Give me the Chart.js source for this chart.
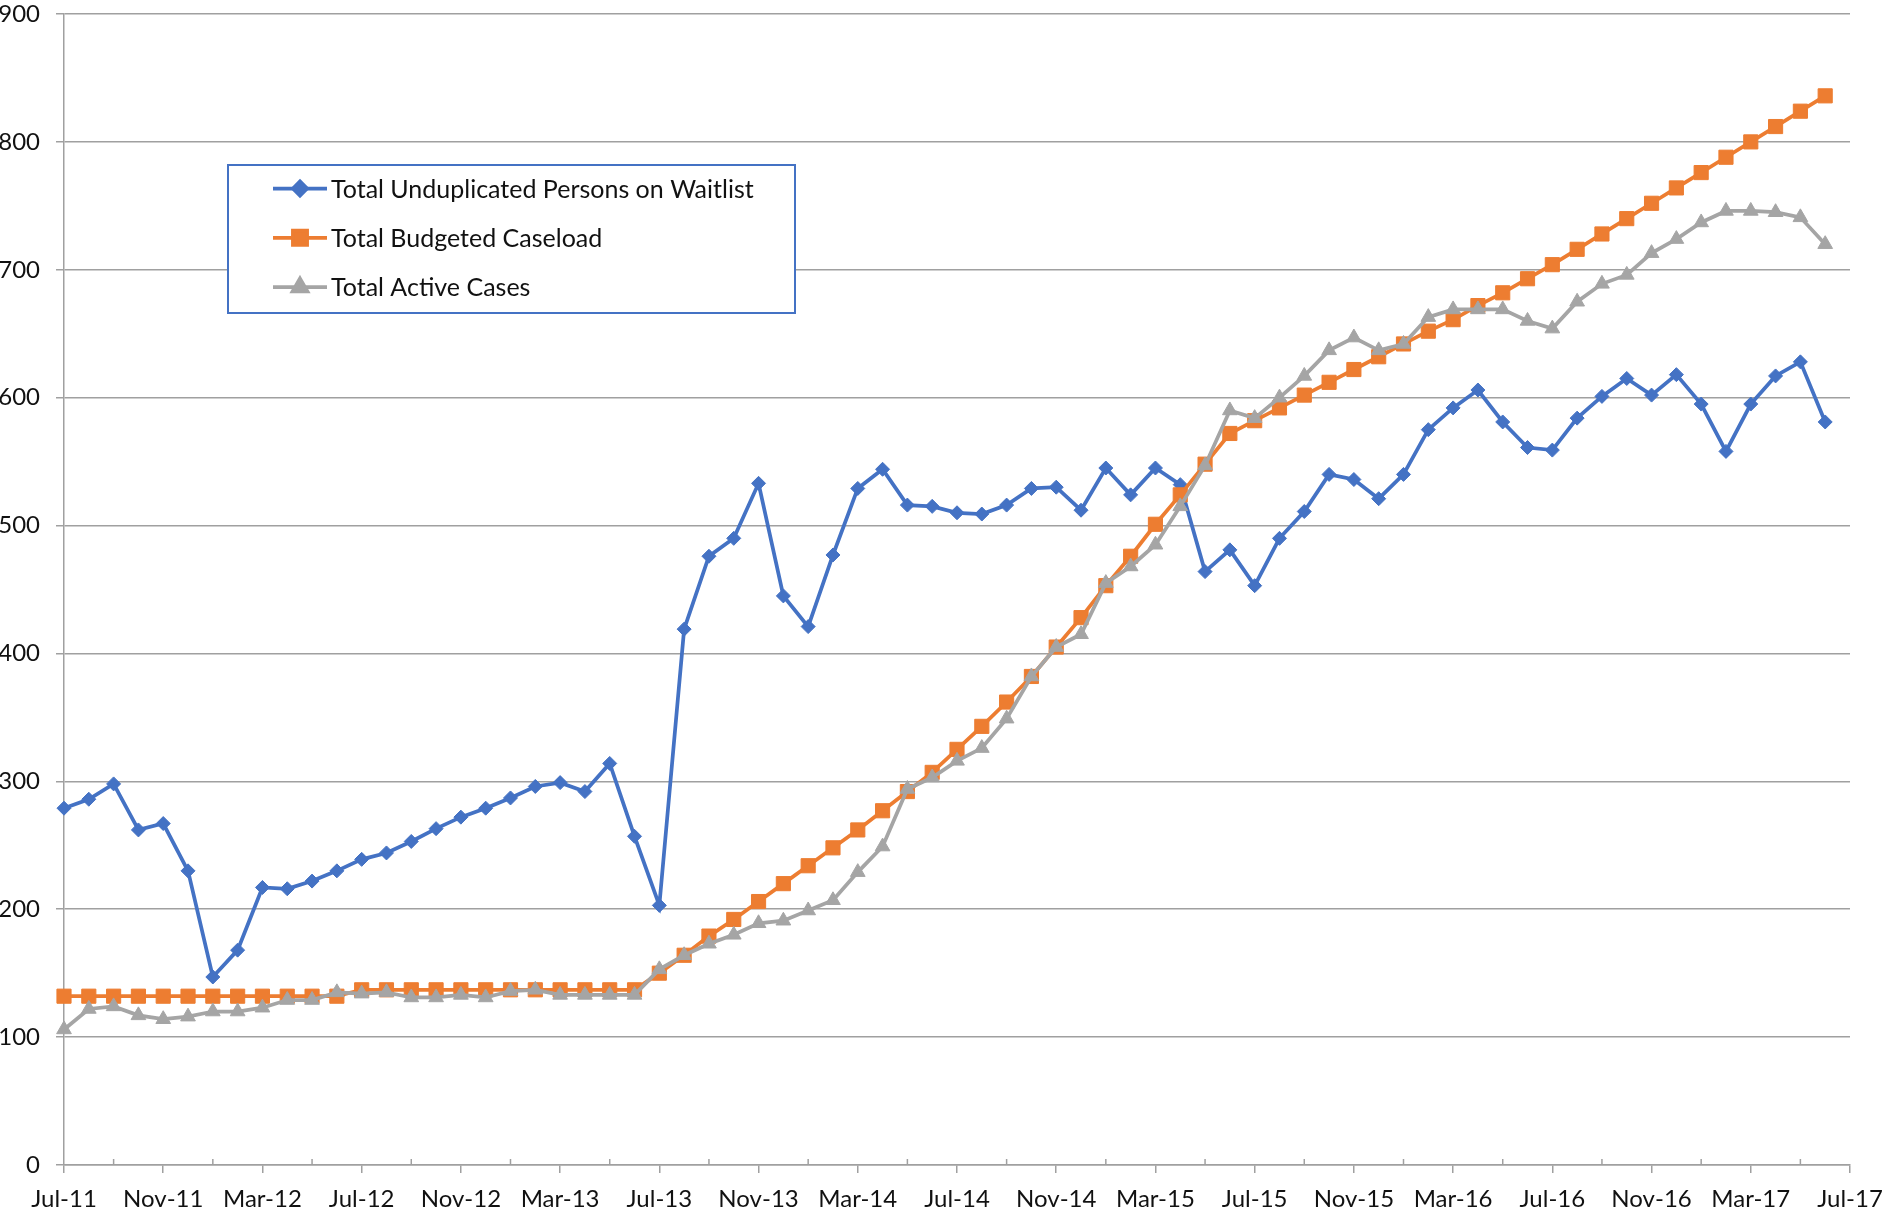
<!DOCTYPE html>
<html>
<head>
<meta charset="utf-8">
<script src="https://cdn.jsdelivr.net/npm/chart.js@4.4.1/dist/chart.umd.min.js"></script>
<style>
html,body{margin:0;padding:0;background:#ffffff;}
#wrap{width:1883px;height:1210px;position:relative;}
canvas{display:block;}
</style>
</head>
<body>
<div id="wrap"><canvas id="chart" width="1883" height="1210"></canvas></div>
<script>
// ---------- DATA ----------
const months = [
 'Jul-11','Aug-11','Sep-11','Oct-11','Nov-11','Dec-11','Jan-12','Feb-12','Mar-12','Apr-12','May-12','Jun-12',
 'Jul-12','Aug-12','Sep-12','Oct-12','Nov-12','Dec-12','Jan-13','Feb-13','Mar-13','Apr-13','May-13','Jun-13',
 'Jul-13','Aug-13','Sep-13','Oct-13','Nov-13','Dec-13','Jan-14','Feb-14','Mar-14','Apr-14','May-14','Jun-14',
 'Jul-14','Aug-14','Sep-14','Oct-14','Nov-14','Dec-14','Jan-15','Feb-15','Mar-15','Apr-15','May-15','Jun-15',
 'Jul-15','Aug-15','Sep-15','Oct-15','Nov-15','Dec-15','Jan-16','Feb-16','Mar-16','Apr-16','May-16','Jun-16',
 'Jul-16','Aug-16','Sep-16','Oct-16','Nov-16','Dec-16','Jan-17','Feb-17','Mar-17','Apr-17','May-17','Jun-17',
 'Jul-17'
];
const tickLabels = ['Jul-11','Nov-11','Mar-12','Jul-12','Nov-12','Mar-13','Jul-13','Nov-13','Mar-14','Jul-14',
 'Nov-14','Mar-15','Jul-15','Nov-15','Mar-16','Jul-16','Nov-16','Mar-17','Jul-17'];
const minorTickLabels = ['Sep-11','Jan-12','May-12','Sep-12','Jan-13','May-13','Sep-13','Jan-14','May-14','Sep-14',
 'Jan-15','May-15','Sep-15','Jan-16','May-16','Sep-16','Jan-17','May-17'];

const seriesNames = ['Total Unduplicated Persons on Waitlist','Total Budgeted Caseload','Total Active Cases'];

const waitlist = [
 279,286,298,262,267,230,147,168,217,216,222,230,
 239,244,253,263,272,279,287,296,299,292,314,257,
 203,419,476,490,533,445,421,477,529,544,516,515,
 510,509,516,529,530,512,545,524,545,532,464,481,
 453,490,511,540,536,521,540,575,592,606,581,561,
 559,584,601,615,602,618,595,558,595,617,628,581
];
const budgeted = [
 132,132,132,132,132,132,132,132,132,132,132,132,
 137,137,137,137,137,137,137,137,137,137,137,137,
 150,164,179,192,206,220,234,248,262,277,292,307,
 325,343,362,382,405,428,453,476,501,524,548,572,
 582,592,602,612,622,632,642,652,661,672,682,693,
 704,716,728,740,752,764,776,788,800,812,824,836
];
const active = [
 106,122,124,117,114,116,120,120,123,129,129,135,
 134,135,131,131,133,131,136,137,133,133,133,133,
 153,164,173,180,189,191,199,207,229,249,294,303,
 316,326,349,382,405,415,455,468,485,515,547,590,
 584,600,617,637,647,637,642,663,669,669,669,660,
 654,675,689,696,713,724,737,746,746,745,741,720
];
const yTickValues = [0,100,200,300,400,500,600,700,800,900];

// ---------- STYLE ----------
const BLUE = '#4472C4', ORANGE = '#ED7D31', GRAY = '#A5A5A5';
const AXIS = '#a0a0a0';
const FONT = 'Lato, "Open Sans", sans-serif';

// minor inside tick marks on x axis
const minorTicks = {
  id: 'minorTicks',
  afterDraw(chart) {
    const xs = chart.scales.x, ctx = chart.ctx;
    const bottom = chart.chartArea.bottom;
    ctx.save();
    ctx.strokeStyle = AXIS;
    ctx.lineWidth = 1.5;
    minorTickLabels.forEach(lbl => {
      const idx = months.indexOf(lbl);
      if (idx < 0) return;
      const x = xs.getPixelForValue(idx);
      ctx.beginPath();
      ctx.moveTo(x, bottom);
      ctx.lineTo(x, bottom - 6);
      ctx.stroke();
    });
    ctx.restore();
  }
};

// boxed legend inside plot
const boxLegend = {
  id: 'boxLegend',
  afterDraw(chart) {
    const ctx = chart.ctx;
    const L = 228, T = 165, W = 567, H = 148;
    ctx.save();
    ctx.fillStyle = '#ffffff';
    ctx.fillRect(L, T, W, H);
    ctx.strokeStyle = BLUE;
    ctx.lineWidth = 2;
    ctx.strokeRect(L, T, W, H);
    chart.data.datasets.forEach((ds, k) => {
      const y = 188.5 + k * 49.3;
      ctx.strokeStyle = ds.borderColor;
      ctx.lineWidth = 3.75;
      ctx.beginPath();
      ctx.moveTo(273, y);
      ctx.lineTo(327, y);
      ctx.stroke();
      ctx.fillStyle = ds.borderColor;
      ctx.strokeStyle = ds.borderColor;
      Chart.helpers.drawPoint(ctx, {pointStyle: ds.pointStyle, radius: ds.pointRadius, borderWidth: 1, rotation: 0}, 300, y);
      ctx.fillStyle = '#111111';
      ctx.font = '25px ' + FONT;
      ctx.textBaseline = 'middle';
      ctx.textAlign = 'left';
      ctx.fillText(ds.label, 331, y + 1);
    });
    ctx.restore();
  }
};

const ctx = document.getElementById('chart').getContext('2d');
new Chart(ctx, {
  type: 'line',
  data: {
    labels: months,
    datasets: [
      { label: seriesNames[0], data: waitlist, borderColor: BLUE, backgroundColor: BLUE,
        borderWidth: 3.75, pointStyle: 'rectRot', pointRadius: 7, pointBorderWidth: 1, tension: 0, order: 2 },
      { label: seriesNames[1], data: budgeted, borderColor: ORANGE, backgroundColor: ORANGE,
        borderWidth: 3.75, pointStyle: 'rect', pointRadius: 10, pointBorderWidth: 1, tension: 0, order: 1 },
      { label: seriesNames[2], data: active, borderColor: GRAY, backgroundColor: GRAY,
        borderWidth: 3.75, pointStyle: 'triangle', pointRadius: 8.5, pointBorderWidth: 1, tension: 0, order: 0 }
    ]
  },
  options: {
    responsive: false,
    animation: false,
    devicePixelRatio: 1,
    layout: { padding: { top: 14, right: 33, left: 0, bottom: 0 } },
    plugins: { legend: { display: false }, tooltip: { enabled: false } },
    scales: {
      x: {
        type: 'category',
        offset: false,
        afterFit(s) { s.height = 45; s.paddingLeft = 0; s.paddingRight = 0; },
        grid: {
          drawOnChartArea: false,
          drawTicks: true,
          tickLength: 8,
          lineWidth: 1.5,
          color: AXIS,
          tickColor: (c) => tickLabels.includes(months[c.index]) ? AXIS : 'rgba(0,0,0,0)'
        },
        border: { display: true, color: AXIS, width: 1.5 },
        ticks: {
          autoSkip: false, maxRotation: 0, minRotation: 0, padding: 12,
          color: '#111111', font: { family: FONT, size: 24 },
          callback: (v, i) => tickLabels.includes(months[i]) ? months[i] : ''
        }
      },
      y: {
        min: 0, max: 900,
        afterFit(s) { s.width = 64; s.paddingTop = 0; s.paddingBottom = 0; },
        afterBuildTicks(s) { s.ticks = yTickValues.map(v => ({ value: v })); },
        grid: { color: AXIS, lineWidth: 1.5, tickLength: 8, drawTicks: true },
        border: { display: true, color: AXIS, width: 1.5 },
        ticks: { padding: 16, color: '#111111', font: { family: FONT, size: 24 } }
      }
    }
  },
  plugins: [minorTicks, boxLegend]
});
</script>
</body>
</html>
